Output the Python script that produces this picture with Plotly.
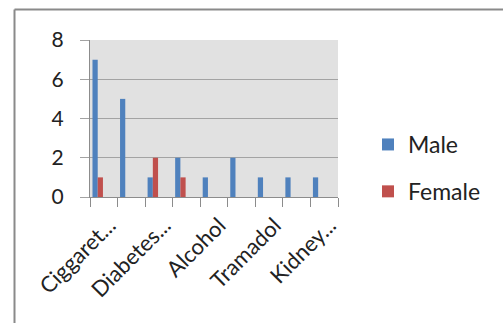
import plotly.graph_objects as go

# ---- data ----
tick_positions = [0, 2, 4, 6, 8]
tick_labels = ["Ciggaret...", "Diabetes...", "Alcohol", "Tramadol", "Kidney..."]
categories = list(range(9))
male = [7, 5, 1, 2, 1, 2, 1, 1, 1]
female = [1, 0, 2, 1, 0, 0, 0, 0, 0]

W, H = 503, 323
L, R, T, B = 90, 165, 40, 126
pw, ph = W - L - R, H - T - B
LABEL_SHIFT = 0.2  # labels sit slightly right of category centres

def px_x(p):
    return (p - L) / pw

def px_y(p):
    return (H - B - p) / ph

FONT = "Lato"
fig = go.Figure()
fig.add_bar(x=categories, y=male, name="Male", marker_color="#4F81BD",
            marker_line_width=0, width=0.19, offset=-0.41, legendgroup="m")
fig.add_bar(x=categories, y=female, name="Female", marker_color="#C0504D",
            marker_line_width=0, width=0.19, offset=-0.22, legendgroup="f")

fig.update_layout(
    width=W, height=H,
    margin=dict(l=L, r=R, t=T, b=B, autoexpand=False),
    paper_bgcolor="white",
    plot_bgcolor="#e1e1e1",
    barmode="overlay",
    font=dict(family=FONT, color="#222", size=21),
    legend=dict(xref="container", yref="container", x=368 / W, y=1 - 123 / H,
                xanchor="left", yanchor="top", traceorder="grouped",
                tracegroupgap=14, font=dict(size=23, family=FONT, color="#222"),
                bgcolor="rgba(0,0,0,0)"),
    xaxis=dict(range=[-0.5, 8.5], tickmode="array",
               tickvals=[p + LABEL_SHIFT for p in tick_positions],
               ticktext=tick_labels, tickangle=-45, ticks="", automargin=False,
               showline=True, linecolor="#8c8c8c", linewidth=1,
               showgrid=False, zeroline=False, ticklabelstandoff=6,
               tickfont=dict(size=22, family=FONT, color="#222"),
               minor=dict(tickmode="linear", tick0=-0.5, dtick=1, ticks="outside",
                          ticklen=9, tickcolor="#8c8c8c", showgrid=False)),
    yaxis=dict(range=[0, 8], dtick=2, tick0=0, showgrid=True, gridcolor="#a3a3a3",
               gridwidth=1, ticks="outside", ticklen=9, tickcolor="#a3a3a3",
               showline=True, linecolor="#8c8c8c", linewidth=1, zeroline=False,
               ticklabelstandoff=12, automargin=False,
               tickfont=dict(size=21, family=FONT, color="#222")),
    shapes=[
        dict(type="line", xref="paper", yref="paper",
             x0=px_x(14.5), x1=px_x(W + 5), y0=px_y(9.5), y1=px_y(9.5),
             line=dict(color="#8a8a8a", width=2), layer="below"),
        dict(type="line", xref="paper", yref="paper",
             x0=px_x(14.5), x1=px_x(14.5), y0=px_y(9.5), y1=px_y(H + 5),
             line=dict(color="#8a8a8a", width=2), layer="below"),
    ],
)

fig.write_html("out.html")
